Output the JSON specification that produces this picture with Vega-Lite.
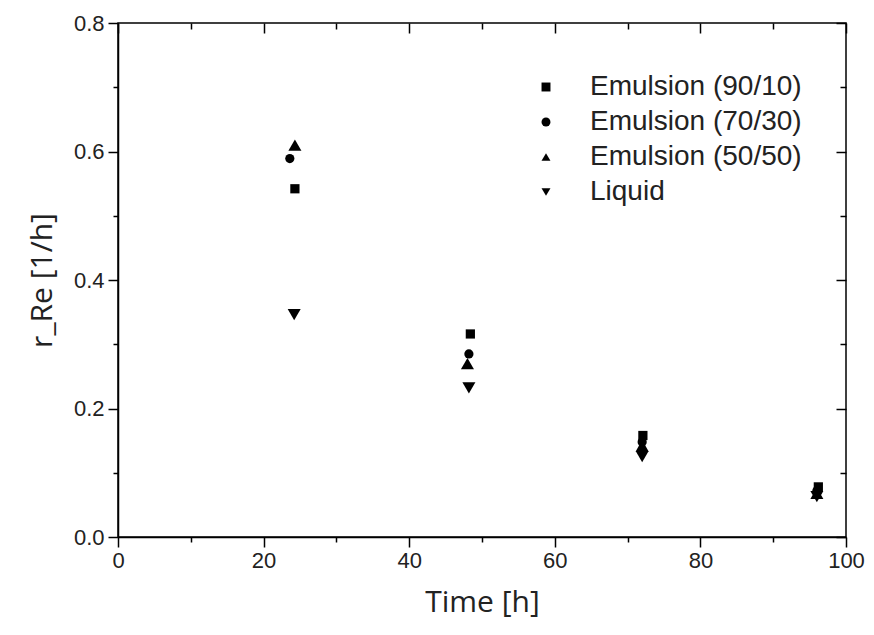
{
  "$schema": "https://vega.github.io/schema/vega-lite/v6.json",
  "width": 728,
  "height": 514,
  "autosize": {"type": "none"},
  "padding": {"left": 118, "top": 23, "right": 28, "bottom": 98},
  "background": "white",
  "config": {
    "view": {"stroke": "black", "strokeWidth": 1.5},
    "axis": {"domainColor": "black", "domainWidth": 1.5, "tickColor": "black", "tickWidth": 1.5, "grid": false,
             "labelFont": "Liberation Sans", "labelFontSize": 22, "labelColor": "#222",
             "titleFont": "Open Sans", "titleFontSize": 30, "titleFontWeight": "normal", "titleColor": "#222"}
  },
  "data": {"values": [
    {"time": 24.3, "r": 0.542, "series": "Emulsion (90/10)"},
    {"time": 23.6, "r": 0.589, "series": "Emulsion (70/30)"},
    {"time": 24.3, "r": 0.61, "series": "Emulsion (50/50)"},
    {"time": 24.2, "r": 0.346, "series": "Liquid"},
    {"time": 48.4, "r": 0.316, "series": "Emulsion (90/10)"},
    {"time": 48.2, "r": 0.285, "series": "Emulsion (70/30)"},
    {"time": 48.0, "r": 0.27, "series": "Emulsion (50/50)"},
    {"time": 48.2, "r": 0.232, "series": "Liquid"},
    {"time": 72.1, "r": 0.158, "series": "Emulsion (90/10)"},
    {"time": 72.0, "r": 0.148, "series": "Emulsion (70/30)"},
    {"time": 72.0, "r": 0.142, "series": "Emulsion (50/50)"},
    {"time": 72.0, "r": 0.125, "series": "Liquid"},
    {"time": 96.2, "r": 0.078, "series": "Emulsion (90/10)"},
    {"time": 96.0, "r": 0.072, "series": "Emulsion (70/30)"},
    {"time": 96.0, "r": 0.068, "series": "Emulsion (50/50)"},
    {"time": 96.0, "r": 0.063, "series": "Liquid"}
  ]},
  "layer": [
    {
      "encoding": {
        "x": {"field": "time", "type": "quantitative",
              "scale": {"domain": [0, 100], "nice": false, "zero": false},
              "axis": {"orient": "bottom", "title": "Time [h]", "values": [0,10,20,30,40,50,60,70,80,90,100],
                       "labelExpr": "datum.value % 20 === 0 ? datum.label : ''",
                       "tickSize": {"condition": {"test": "datum.value % 20 === 0", "value": 10}, "value": 5},
                       "labelPadding": 3, "titlePadding": 16, "labelFlush": false}},
        "y": {"field": "r", "type": "quantitative",
              "scale": {"domain": [0, 0.8], "nice": false},
              "axis": {"orient": "left", "title": "r_Re [1/h]", "values": [0,0.1,0.2,0.3,0.4,0.5,0.6,0.7,0.8],
                       "labelExpr": "round(datum.value*10) % 2 === 0 ? format(datum.value, '.1f') : ''",
                       "tickSize": {"condition": {"test": "round(datum.value*10) % 2 === 0", "value": 10}, "value": 5},
                       "labelPadding": 4, "titlePadding": 16, "labelFlush": false}},
        "shape": {"field": "series", "type": "nominal",
                  "scale": {"domain": ["Emulsion (90/10)", "Emulsion (70/30)", "Emulsion (50/50)", "Liquid"],
                            "range": ["square", "circle", "triangle-up", "triangle-down"]},
                  "legend": {"orient": "none", "legendX": 414, "legendY": 50, "title": null,
                             "symbolFillColor": "black", "symbolStrokeColor": "black", "symbolSize": 80,
                             "labelFont": "Liberation Sans", "labelFontSize": 28, "labelColor": "#222",
                             "labelOffset": 30, "rowPadding": 7, "padding": 0, "labelLimit": 400}}
      },
      "layer": [
        {
          "transform": [{"filter": {"field": "series", "oneOf": ["Emulsion (90/10)", "Emulsion (70/30)"]}}],
          "mark": {"type": "point", "filled": true, "color": "black", "opacity": 1, "size": 85}
        },
        {
          "transform": [{"filter": {"field": "series", "oneOf": ["Emulsion (50/50)", "Liquid"]}}],
          "mark": {"type": "point", "filled": true, "color": "black", "opacity": 1, "size": 170}
        }
      ]
    },
    {
      "mark": {"type": "point", "opacity": 0},
      "encoding": {
        "x": {"field": "time", "type": "quantitative",
              "scale": {"domain": [0, 100], "nice": false, "zero": false},
              "axis": {"orient": "top", "title": null, "labels": false, "domain": false,
                       "values": [0,10,20,30,40,50,60,70,80,90,100],
                       "tickSize": {"condition": {"test": "datum.value % 20 === 0", "value": -10}, "value": -6}}},
        "y": {"field": "r", "type": "quantitative",
              "scale": {"domain": [0, 0.8], "nice": false},
              "axis": {"orient": "right", "title": null, "labels": false, "domain": false,
                       "values": [0,0.1,0.2,0.3,0.4,0.5,0.6,0.7,0.8],
                       "tickSize": {"condition": {"test": "round(datum.value*10) % 2 === 0", "value": -10}, "value": -6}}}
      }
    }
  ],
  "resolve": {"scale": {"x": "independent", "y": "independent"}, "axis": {"x": "independent", "y": "independent"}}
}
